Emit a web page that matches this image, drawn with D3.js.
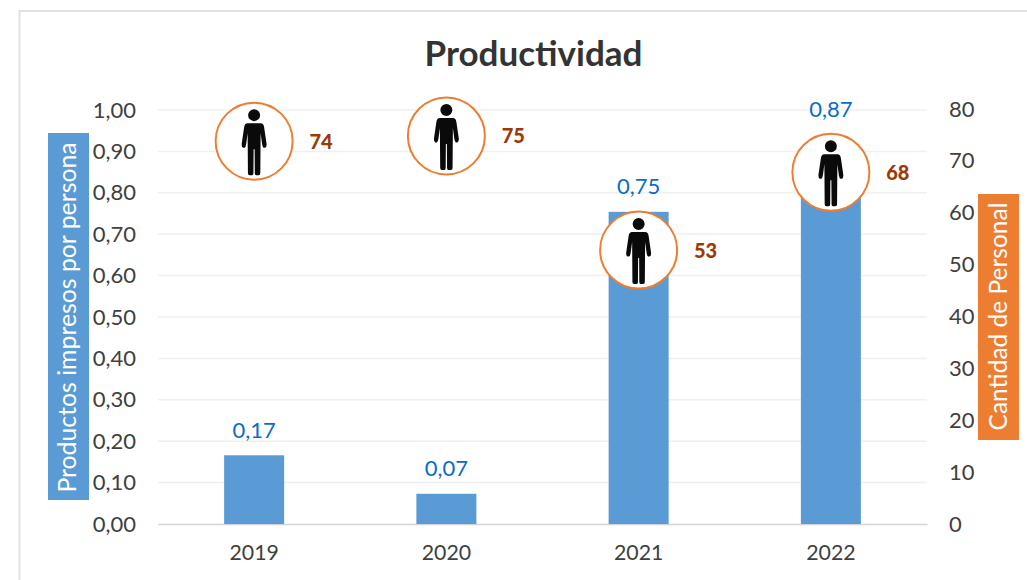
<!DOCTYPE html>
<html>
<head>
    <meta charset="utf-8">
    <title>Productividad</title>
    <script src="https://d3js.org/d3.v7.min.js"></script>
    <style>
        html, body { margin: 0; padding: 0; background: #fff; }
        svg { display: block; }
        text { font-family: Lato, "Open Sans", sans-serif; }
    </style>
</head>
<body>
    <div id="chart"></div>
    <script>
        // Values
        const years = ["2019", "2020", "2021", "2022"];
        const productos = [0.166, 0.073, 0.754, 0.87];
        const productosLabels = ["0,17", "0,07", "0,75", "0,87"];
        // the 2022 label sits above its marker, not on the bar
        const labelAt = [0.166, 0.073, 0.754, 0.94];
        const personal = [74, 75, 53, 68];
        const leftTicks = [0, 0.1, 0.2, 0.3, 0.4, 0.5, 0.6, 0.7, 0.8, 0.9, 1];
        const rightTicks = [0, 10, 20, 30, 40, 50, 60, 70, 80];

        const width = 1027, height = 580;
        const svg = d3.select("#chart").append("svg")
            .attr("width", width)
            .attr("height", height);

        // Chart frame, runs off the right and bottom of the picture
        svg.append("rect")
            .attr("x", 19.5).attr("y", 11)
            .attr("width", 1040).attr("height", 600)
            .attr("fill", "#fff")
            .attr("stroke", "#e2e2e2")
            .attr("stroke-width", 2);

        const x = d3.scaleBand().domain(years).range([158, 927]).paddingInner(0).paddingOuter(0);
        const y = d3.scaleLinear().domain([0, 1]).range([524, 110]);
        const y2 = d3.scaleLinear().domain([0, 80]).range([524, 109]);
        const cx = d => x(d) + x.bandwidth() / 2;

        svg.append("text")
            .attr("x", 533.5).attr("y", 66)
            .attr("text-anchor", "middle")
            .attr("font-size", 35).attr("font-weight", 700)
            .attr("fill", "#333")
            .text("Productividad");

        // Gridlines
        svg.append("g").selectAll("line")
            .data(leftTicks.slice(1))
            .join("line")
            .attr("x1", 158).attr("x2", 927)
            .attr("y1", d => y(d)).attr("y2", d => y(d))
            .attr("stroke", "#f0f0f0").attr("stroke-width", 1.5);

        // Left axis
        const yAxis = svg.append("g")
            .attr("transform", "translate(158,0)")
            .call(d3.axisLeft(y).tickValues(leftTicks).tickSize(0).tickPadding(22)
                .tickFormat(d => d3.format(".2f")(d).replace(".", ",")));
        // Right axis
        const yAxis2 = svg.append("g")
            .attr("transform", "translate(927,0)")
            .call(d3.axisRight(y2).tickValues(rightTicks).tickSize(0).tickPadding(22));
        // Bottom axis
        const xAxis = svg.append("g")
            .attr("transform", "translate(0,524)")
            .call(d3.axisBottom(x).tickSize(0).tickPadding(21));
        yAxis.select(".domain").remove();
        yAxis2.select(".domain").remove();
        xAxis.select(".domain").attr("stroke", "#d4d4d4").attr("stroke-width", 1.5);
        yAxis.selectAll("text").attr("font-size", 22).attr("fill", "#404040");
        yAxis2.selectAll("text").attr("font-size", 22).attr("fill", "#404040");
        xAxis.selectAll("text").attr("font-size", 21.3).attr("fill", "#404040");

        // Bars
        svg.append("g").selectAll("rect")
            .data(years)
            .join("rect")
            .attr("x", d => cx(d) - 30)
            .attr("width", 60)
            .attr("y", (d, i) => y(productos[i]))
            .attr("height", (d, i) => y(0) - y(productos[i]))
            .attr("fill", "#5b9bd5");

        // Bar labels
        svg.append("g").selectAll("text")
            .data(years)
            .join("text")
            .attr("x", d => cx(d))
            .attr("y", (d, i) => y(labelAt[i]) - 17.5)
            .attr("text-anchor", "middle")
            .attr("font-size", 22)
            .attr("fill", "#0b6cc4")
            .text((d, i) => productosLabels[i]);

        // Axis title boxes
        const leftTitle = svg.append("g").attr("transform", "translate(48,133)");
        leftTitle.append("rect").attr("width", 41).attr("height", 367).attr("fill", "#5b9bd5");
        leftTitle.append("text")
            .attr("transform", "translate(28,184.5) rotate(-90)")
            .attr("text-anchor", "middle")
            .attr("font-size", 24.8).attr("fill", "#fff")
            .text("Productos impresos por persona");

        const rightTitle = svg.append("g").attr("transform", "translate(978,194)");
        rightTitle.append("rect").attr("width", 41).attr("height", 246).attr("fill", "#ed7d31");
        rightTitle.append("text")
            .attr("transform", "translate(29,122.5) rotate(-90)")
            .attr("text-anchor", "middle")
            .attr("font-size", 24.5).attr("fill", "#fff")
            .text("Cantidad de Personal");

        // Person markers on the secondary axis
        const person = "M-6,-26a6,6 0 1,1 12,0a6,6 0 1,1 -12,0z" +
            "M-6.5,-18 L6.5,-18 Q9.5,-18 10,-14 L12.5,3 Q12.5,6 11,6.5 L9.5,6.5 Q8.5,6 8,3 L6.5,-8 L6.2,32 Q6.2,34 4.5,34 L2,34 Q0.7,34 0.7,32 L0.5,8 L-0.5,8 L-0.7,32 Q-0.7,34 -2,34 L-4.5,34 Q-6.2,34 -6.2,32 L-6.5,-8 L-8,3 Q-8.5,6 -9.5,6.5 L-11,6.5 Q-12.5,6 -12.5,3 L-10,-14 Q-9.5,-18 -6.5,-18z";

        const markers = svg.append("g").selectAll("g")
            .data(years)
            .join("g")
            .attr("transform", (d, i) => `translate(${cx(d)},${y2(personal[i]) + 1})`);

        markers.append("circle")
            .attr("r", 38.5)
            .attr("fill", "#fff")
            .attr("stroke", "#ed7d31")
            .attr("stroke-width", 2);

        markers.append("path")
            .attr("d", person)
            .attr("fill", "#0a0a0a");

        markers.append("text")
            .attr("x", 67)
            .attr("y", 7.5)
            .attr("text-anchor", "middle")
            .attr("font-size", 20).attr("font-weight", 900)
            .attr("fill", "#9c3a06")
            .text((d, i) => personal[i]);
    </script>
</body>
</html>
